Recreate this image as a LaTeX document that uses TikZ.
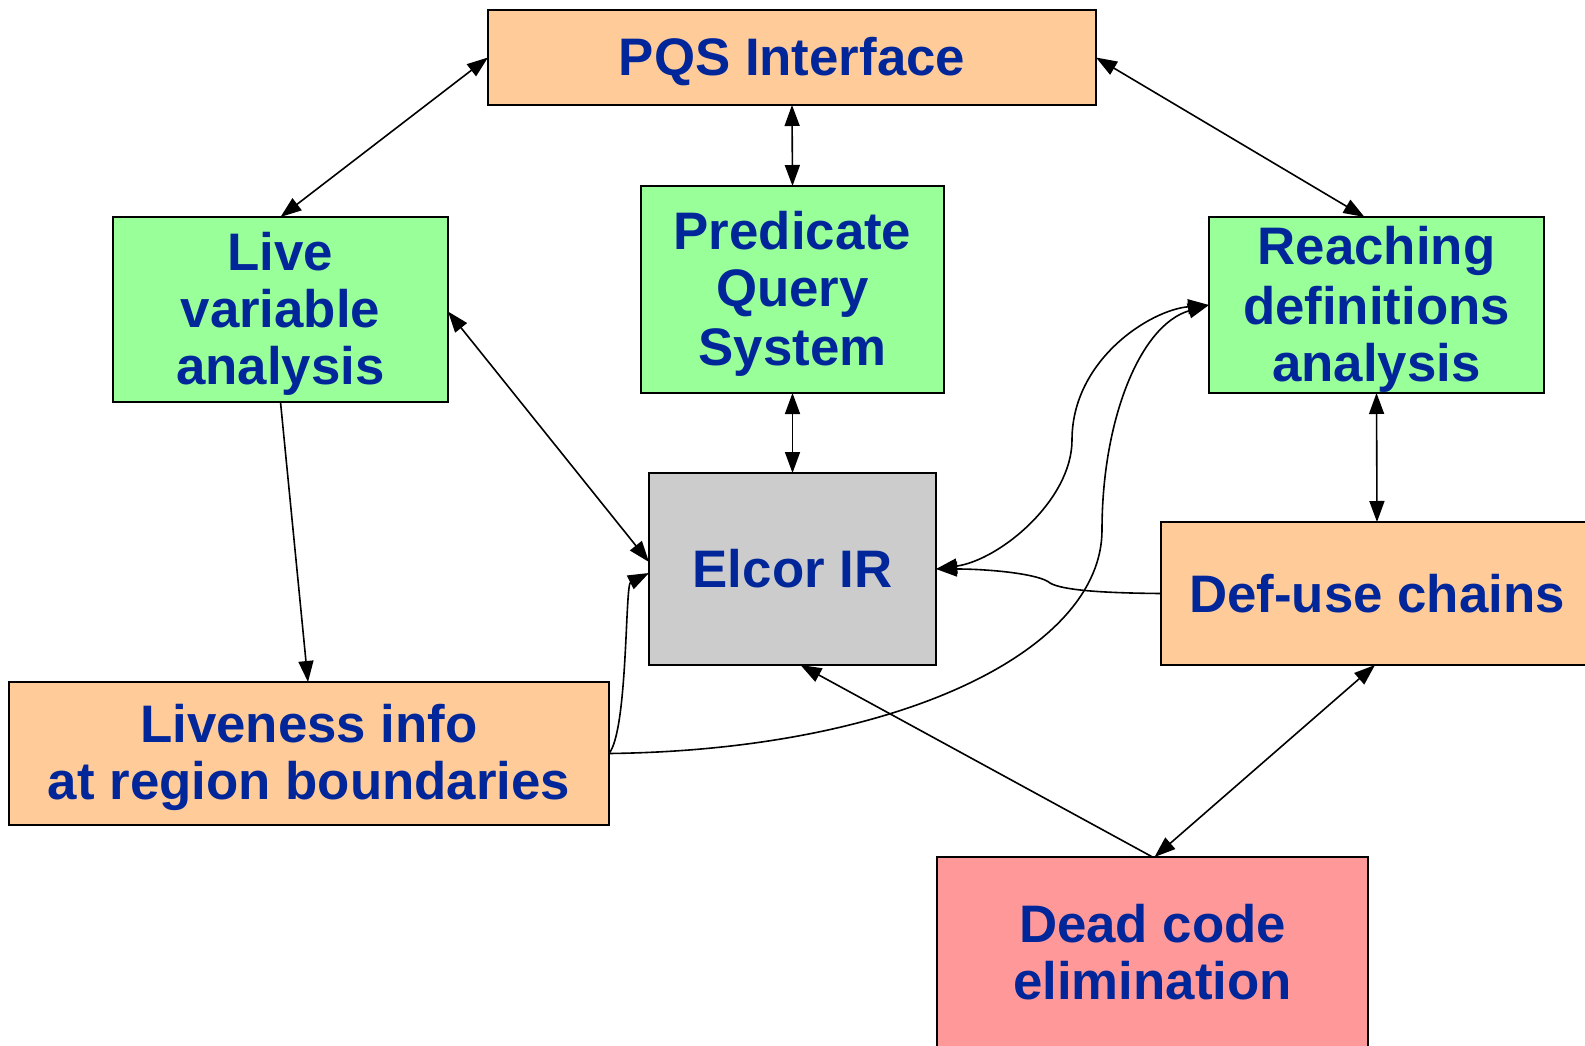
\documentclass[tikz,border=0pt]{standalone}
\usepackage{fontspec}
\setmainfont{Liberation Sans}
\usetikzlibrary{arrows.meta}
\definecolor{txtblue}{RGB}{0,38,153}
\definecolor{peach}{RGB}{255,204,153}
\definecolor{mint}{RGB}{153,255,153}
\definecolor{greybox}{RGB}{204,204,204}
\definecolor{rose}{RGB}{255,153,153}
% fixed line box for every text line inside the boxes
\newcommand{\linestrut}{\rule[-10pt]{0pt}{57pt}}
\tikzset{
  box/.style={draw=black, line width=1.5pt, inner sep=0pt, outer sep=0pt, align=center,
    text=txtblue, font=\fontsize{52.8}{57}\selectfont\bfseries},
  tip/.tip={Triangle[length=21pt,width=15pt]},
  conn/.style={line width=1.6pt, -tip},
  biconn/.style={line width=1.6pt, tip-tip},
}
\begin{document}
\begin{tikzpicture}[x=1pt,y=-1pt]
\useasboundingbox (0,0) rectangle (1585,1046);
\clip (0,0) rectangle (1585,1046);

% boxes
\node[box, fill=peach, minimum width=608pt, minimum height=95pt] (pqs) at (792,57.5)
  {\linestrut PQS Interface};
\node[box, fill=mint, minimum width=335pt, minimum height=185pt] (live) at (280.5,309.5)
  {\linestrut Live\\\linestrut variable\\\linestrut analysis};
\node[box, fill=mint, minimum width=303pt, minimum height=207pt] (pred) at (792.5,289.5)
  {\linestrut Predicate\\\linestrut Query\\\linestrut System};
\node[box, fill=mint, minimum width=335pt, minimum height=176pt] (reach) at (1376.5,305)
  {\linestrut Reaching\\\linestrut definitions\\\linestrut analysis};
\node[box, fill=greybox, minimum width=287pt, minimum height=192pt] (elcor) at (792.5,569)
  {\linestrut Elcor IR};
\node[box, fill=peach, minimum width=432pt, minimum height=143pt] (defuse) at (1377,593.5)
  {\linestrut Def-use chains};
\node[box, fill=peach, minimum width=600pt, minimum height=143pt] (liveness) at (309,753.5)
  {\linestrut Liveness info\\\linestrut at region boundaries};
\node[box, fill=rose, minimum width=431pt, minimum height=191pt] (dead) at (1152.5,952.5)
  {\linestrut Dead code\\\linestrut elimination};

% straight connectors
\draw[biconn] (pqs.west) -- (live.north);
\draw[biconn] (pqs.east) -- ([xshift=-12pt]reach.north);
\draw[biconn] (pqs.south) -- (pred.north);
\draw[biconn] (pred.south) -- (elcor.north);
\draw[biconn] (reach.south) -- (defuse.north);
\draw[conn] (live.south) -- ([xshift=-1pt]liveness.north);
\draw[biconn] ([yshift=-2pt]live.east) -- ([yshift=7pt]elcor.west);
\draw[conn] (dead.north) -- ([xshift=8pt]elcor.south);
\draw[biconn] ([xshift=-2pt]defuse.south) -- ([xshift=2pt]dead.north);

% curved connectors
\draw[conn] (liveness.east) .. controls (628,730) and (625,585) .. ([yshift=-4pt]elcor.west);
\draw[conn] (liveness.east) .. controls (900,750) and (1102,650) .. (1102,530)
  .. controls (1102,420) and (1140,325) .. (reach.west);
\draw[biconn] (elcor.east) .. controls (1000,560) and (1072,500) .. (1072,440)
  .. controls (1072,360) and (1150,310) .. (reach.west);
\draw[conn] (defuse.west) .. controls (1100,593) and (1062,590) .. (1050,583)
  .. controls (1040,574) and (990,569) .. (elcor.east);
\end{tikzpicture}
\end{document}
